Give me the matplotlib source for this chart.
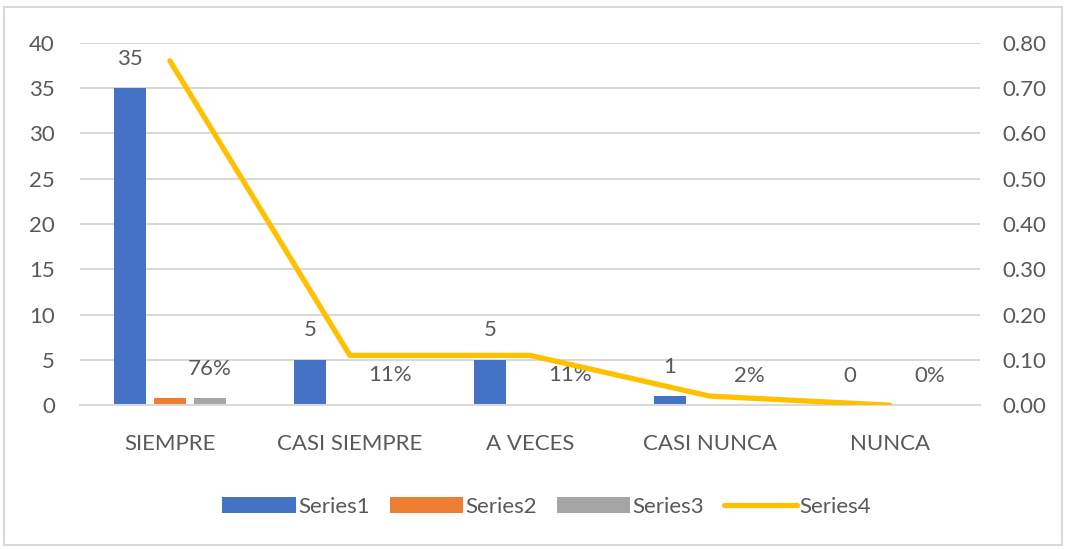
import numpy as np
import matplotlib
matplotlib.use('Agg')
import matplotlib.pyplot as plt
from matplotlib.patches import Rectangle

categories = ['SIEMPRE', 'CASI SIEMPRE', 'A VECES', 'CASI NUNCA', 'NUNCA']
series1 = [35, 5, 5, 1, 0]
series2 = [0.76, 0.11, 0.11, 0.02, 0.0]
series3 = [0.76, 0.11, 0.11, 0.02, 0.0]
series4 = [0.76, 0.11, 0.11, 0.02, 0.0]
left_ticks = [0, 5, 10, 15, 20, 25, 30, 35, 40]
right_ticks = [0.0, 0.1, 0.2, 0.3, 0.4, 0.5, 0.6, 0.7, 0.8]

blue = '#4472C4'
orange = '#ED7D31'
gray = '#A5A5A5'
gold = '#FFC000'
txt = '#595959'
grid = '#D9D9D9'

plt.rcParams['font.family'] = ['Lato', 'DejaVu Sans']
fs = 16

fig = plt.figure(figsize=(10.66, 5.49), dpi=100)
fig.patches.append(Rectangle((0.004, 0.007), 0.992, 0.98, transform=fig.transFigure,
                             fill=False, edgecolor='#D9D9D9', linewidth=1.5))
ax = fig.add_axes([0.075, 0.262, 0.844, 0.66])
ax2 = ax.twinx()

x = np.arange(len(categories))
w = 0.178
step = 0.222
b1 = ax.bar(x - step, series1, w, color=blue, label='Series1', zorder=3)
b2 = ax.bar(x, series2, w, color=orange, label='Series2', zorder=3)
b3 = ax.bar(x + step, series3, w, color=gray, label='Series3', zorder=3)
ln, = ax2.plot(x, series4, color=gold, linewidth=3.8, solid_capstyle='round',
               solid_joinstyle='round', label='Series4')

for xi, v in zip(x, series1):
    ax.annotate(str(v), (xi - step, v), xytext=(0, 14), textcoords='offset points',
                ha='center', va='bottom', fontsize=fs, color=txt, zorder=5)
for xi, v in zip(x, series3):
    ax.annotate('{:.0f}%'.format(v * 100), (xi + step, v), xytext=(0, 14),
                textcoords='offset points', ha='center', va='bottom', fontsize=fs,
                color=txt, zorder=5)

ax.set_xlim(-0.5, len(categories) - 0.5)
ax.set_ylim(0, 40)
ax2.set_ylim(0, 0.8)
ax.set_yticks(left_ticks)
ax2.set_yticks(right_ticks)
ax2.set_yticklabels(['{:.2f}'.format(t) for t in right_ticks])
ax.set_xticks(x)
ax.set_xticklabels(categories)

ax.grid(axis='y', color=grid, linewidth=1.5, zorder=0)
ax.set_axisbelow(True)
for a in (ax, ax2):
    for s in a.spines.values():
        s.set_visible(False)
    a.tick_params(length=0, labelsize=fs, labelcolor=txt)
ax.spines['bottom'].set_visible(True)
ax.spines['bottom'].set_color(grid)
ax.spines['bottom'].set_linewidth(1.5)
ax.spines['bottom'].set_zorder(4)
ax.tick_params(axis='x', pad=21)
ax.tick_params(axis='y', pad=18)
ax2.tick_params(axis='y', pad=16)
ax2.set_zorder(3)
ax2.patch.set_visible(False)

fig.legend([b1, b2, b3, ln], ['Series1', 'Series2', 'Series3', 'Series4'],
           loc='center', bbox_to_anchor=(0.513, 0.077), ncol=4, frameon=False,
           fontsize=fs, handlelength=3.3, handletextpad=0.1, columnspacing=0.9,
           labelcolor=txt)

fig.savefig('out.png', dpi=100)
